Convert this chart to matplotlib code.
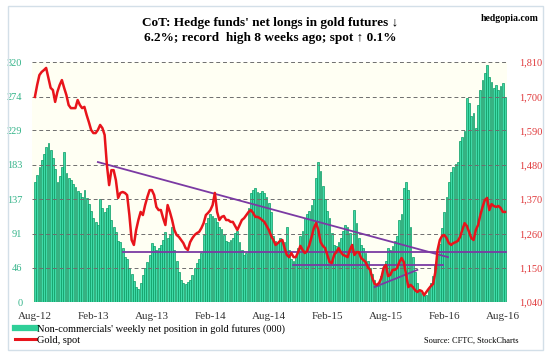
import matplotlib
matplotlib.use("Agg")
import matplotlib.pyplot as plt
from matplotlib.lines import Line2D
import pandas as pd

# 周度数据：非商业净多头(千手) 与 黄金现货
start_date = "2012-08-07"
net_longs = [
    160, 170, 180, 190, 198, 207, 212, 203, 192, 178,
    160, 168, 180, 200, 172, 165, 163, 158, 153, 148,
    145, 140, 149, 139, 131, 122, 112, 107, 103, 137,
    126, 120, 125, 130, 110, 100, 93, 82, 80, 72,
    60, 57, 46, 38, 28, 20, 18, 25, 36, 45,
    53, 63, 79, 75, 70, 72, 76, 83, 93, 85,
    90, 100, 70, 55, 40, 30, 25, 24, 27, 30,
    36, 45, 52, 58, 65, 90, 105, 112, 118, 115,
    112, 107, 100, 97, 90, 82, 80, 83, 86, 92,
    95, 80, 70, 63, 66, 125, 145, 150, 152, 147,
    145, 148, 146, 140, 132, 120, 88, 82, 80, 85,
    82, 80, 100, 70, 57, 55, 62, 72, 88, 95,
    112, 118, 122, 129, 137, 165, 187, 175, 155, 138,
    122, 112, 92, 76, 75, 80, 86, 95, 103, 100,
    92, 78, 123, 105, 85, 76, 72, 66, 55, 45,
    38, 30, 23, 22, 35, 48, 55, 72, 70, 75,
    82, 88, 110, 118, 152, 160, 150, 100, 60, 40,
    25, 15, 12, 8, 10, 18, 25, 35, 50, 63,
    78, 99, 120, 140, 160, 173, 180, 184, 187, 215,
    220, 228, 272, 266, 248, 252, 232, 263, 283, 296,
    305, 316, 300, 293, 285, 290, 283, 288, 292, 274,
]
gold_spot = [
    1698, 1736, 1768, 1778, 1784, 1791, 1759, 1727, 1720, 1682,
    1714, 1736, 1752, 1727, 1704, 1672, 1662, 1662, 1662, 1688,
    1672, 1662, 1666, 1640, 1617, 1592, 1582, 1582, 1592, 1608,
    1598, 1576, 1480, 1415, 1463, 1463, 1431, 1374, 1390, 1393,
    1390, 1383, 1319, 1239, 1223, 1271, 1303, 1329, 1319, 1351,
    1377, 1399, 1399, 1383, 1345, 1335, 1335, 1309, 1287, 1351,
    1329, 1303, 1271, 1255, 1249, 1239, 1229, 1213, 1207, 1232,
    1245, 1255, 1261, 1265, 1277, 1293, 1319, 1326, 1335, 1351,
    1390, 1329, 1303, 1313, 1316, 1303, 1303, 1297, 1297, 1284,
    1271, 1287, 1303, 1309, 1319, 1329, 1335, 1326, 1313, 1313,
    1309, 1303, 1297, 1284, 1271, 1252, 1239, 1223, 1229, 1236,
    1239, 1213, 1191, 1184, 1197, 1184, 1184, 1200, 1220, 1207,
    1197, 1204, 1223, 1249, 1277, 1293, 1271, 1232, 1220, 1213,
    1191, 1168, 1165, 1191, 1200, 1213, 1200, 1191, 1188, 1184,
    1207, 1223, 1191, 1200, 1200, 1181, 1175, 1168, 1152, 1143,
    1117, 1098, 1095, 1101, 1117, 1149, 1159, 1123, 1127, 1143,
    1143, 1149, 1168, 1181, 1168, 1127, 1088, 1095, 1088, 1078,
    1072, 1078, 1075, 1062, 1072, 1082, 1091, 1098, 1136, 1207,
    1239, 1252, 1255, 1245, 1229, 1223, 1229, 1232, 1236, 1249,
    1271, 1293, 1284, 1265, 1245, 1239, 1271, 1287, 1319, 1345,
    1367, 1374, 1335, 1354, 1348, 1345, 1348, 1342, 1329, 1329,
]

# 紫色趋势线（周序号, 金价）
trend_down = [(28, 1489), (183.6, 1184)]
support_long = [(39, 1200), (209.5, 1200)]
support_short = [(114.7, 1159), (181.3, 1159)]
trend_up = [(151, 1088), (170, 1143)]

left_ticks = [0, 46, 91, 137, 183, 229, 274, 320]
right_ticks = [1040, 1150, 1260, 1370, 1480, 1590, 1700, 1810]
right_labels = ["1,040", "1,150", "1,260", "1,370", "1,480", "1,590", "1,700", "1,810"]
x_tick_dates = ["2012-08-07", "2013-02-05", "2013-08-06", "2014-02-04", "2014-08-05",
                "2015-02-03", "2015-08-04", "2016-02-02", "2016-08-02"]
x_tick_labels = ["Aug-12", "Feb-13", "Aug-13", "Feb-14", "Aug-14",
                 "Feb-15", "Aug-15", "Feb-16", "Aug-16"]

dates = pd.date_range(start_date, periods=len(net_longs), freq="7D")

def week_to_date(w):
    return dates[0] + pd.Timedelta(days=7 * w)

plt.rcParams["font.family"] = ["Liberation Serif", "DejaVu Serif"]

fig = plt.figure(figsize=(5.52, 3.6), dpi=100)
fig.patch.set_facecolor("white")

# 外框
frame = plt.Rectangle((8 / 552, 10 / 360), 535 / 552, 344 / 360, transform=fig.transFigure,
                      fill=False, edgecolor="#d3dfe8", linewidth=1.0)
fig.patches.append(frame)

ax = fig.add_axes([32 / 552, 58 / 360, 475 / 552, 240 / 360])
ax.set_facecolor("#fffff3")
ax.bar(dates, net_longs, width=5.5, color="#3fdaa8", edgecolor="#0a9a62", linewidth=0.5, zorder=1)
ax.set_ylim(0, 320)
ax.set_yticks(left_ticks)
ax.set_yticklabels([str(t) for t in left_ticks])
ax.set_axisbelow(False)
ax.grid(axis="y", color="#6e6e6e", linestyle=(0, (4, 3)), linewidth=0.7, zorder=3)
ax.set_xlim(dates[0] - pd.Timedelta(days=9), dates[-1] + pd.Timedelta(days=6))
ax.set_xticks(pd.to_datetime(x_tick_dates))
ax.set_xticklabels(x_tick_labels)
ax.tick_params(axis="y", length=0, pad=7, labelsize=7.5, labelcolor="#35b48a")
ax.tick_params(axis="x", length=0, pad=7, labelsize=8, labelcolor="#333333")
for s in ax.spines.values():
    s.set_visible(False)

ax2 = ax.twinx()
ax2.plot(dates, gold_spot, color="#e8141b", linewidth=1.8, zorder=5)
for seg in [trend_down, support_long, support_short, trend_up]:
    ax2.plot([week_to_date(p[0]) for p in seg], [p[1] for p in seg],
             color="#7b3aa3", linewidth=1.3, zorder=4)
ax2.set_ylim(1040, 1810)
ax2.set_yticks(right_ticks)
ax2.set_yticklabels(right_labels)
ax2.tick_params(axis="y", length=0, pad=9, labelsize=7.5, labelcolor="#e0383a")
for s in ax2.spines.values():
    s.set_visible(False)

fig.text(0.49, 0.915, "CoT: Hedge funds' net longs in gold futures \u2193\n"
         "6.2%; record  high 8 weeks ago; spot \u2191 0.1%",
         ha="center", va="center", fontsize=9.5, fontweight="bold", linespacing=1.3)
fig.text(0.975, 0.948, "hedgopia.com", ha="right", va="center", fontsize=7, fontweight="bold")

handles = [Line2D([], [], color="#2fcf98", linewidth=4.5),
           Line2D([], [], color="#e8141b", linewidth=2.2)]
fig.legend(handles, ["Non-commercials' weekly net position in gold futures (000)", "Gold, spot"],
           loc="lower left", bbox_to_anchor=(0.02, 0.03), frameon=False, fontsize=7.5,
           handlelength=2.0, handletextpad=0.1, labelspacing=0.2, borderaxespad=0)
fig.text(0.94, 0.053, "Source: CFTC, StockCharts", ha="right", va="center", fontsize=6)

fig.savefig("out.png", dpi=100)
